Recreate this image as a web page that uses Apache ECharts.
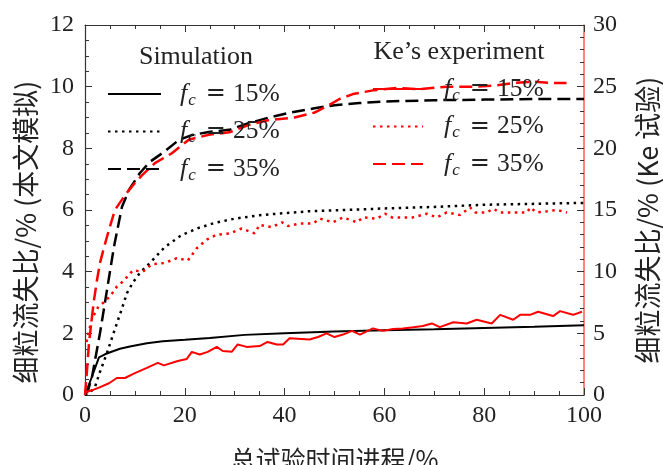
<!DOCTYPE html>
<html>
<head>
<meta charset="utf-8">
<script src="https://cdn.jsdelivr.net/npm/echarts@6/dist/echarts.min.js"></script>
<style>
  html, body { margin: 0; padding: 0; background: #fff; }
  #chart { width: 663px; height: 465px; }
</style>
</head>
<body>
<div id="chart"></div>
<script>
// Simulated fine-particle loss ratio (left axis, %)
const sim15X = [0, 1.4, 2.8, 4, 5.6, 7, 9, 12.4, 15.6, 20, 25, 32, 40, 50, 60, 70, 80, 90, 100];
const sim15Y = [0, 0.6, 1.22, 1.32, 1.42, 1.5, 1.57, 1.68, 1.74, 1.79, 1.85, 1.95, 2.0, 2.06, 2.1, 2.13, 2.17, 2.21, 2.26];

const sim25X = [0, 1, 2, 3, 4.4, 5.4, 6.4, 7.4, 8.4, 9.6, 11, 13.4, 16, 19.4, 22.8, 26, 30, 35, 40, 45, 52, 60, 70, 80, 90, 100];
const sim25Y = [0, 0.08, 0.26, 0.75, 1.36, 1.85, 2.33, 2.8, 3.3, 3.65, 3.96, 4.35, 4.8, 5.19, 5.42, 5.58, 5.72, 5.83, 5.9, 5.96, 6.0, 6.05, 6.1, 6.17, 6.2, 6.23];

const sim35X = [0, 0.6, 1.4, 2.2, 3, 3.7, 4.4, 5.1, 5.8, 6.6, 7.4, 8.8, 11, 13, 15.8, 18.8, 21.4, 24.8, 28.9, 32.9, 36.9, 40.9, 46, 50, 55, 60, 70, 80, 90, 100];
const sim35Y = [0, 0.15, 0.58, 1.3, 2.0, 2.7, 3.4, 4.1, 4.8, 5.45, 6.1, 6.65, 7.2, 7.56, 7.88, 8.27, 8.43, 8.53, 8.6, 8.82, 9.0, 9.15, 9.3, 9.4, 9.47, 9.52, 9.56, 9.58, 9.6, 9.6];

// Ke's measured loss ratio (right axis, %)
const exp15X = [0, 1.5, 2.8, 4.8, 6.4, 8, 10, 12.4, 14.6, 15.8, 18.6, 20.4, 21.4, 23, 24.6, 26.4, 27.6, 29.4, 30.6, 32.4, 35, 36.6, 38.4, 39.7, 41, 45, 46.7, 48.4, 50, 51.7, 53.5, 55.1, 57.7, 59.7, 61.7, 63.7, 65.8, 67.7, 69.5, 71.1, 73.8, 76.5, 78.5, 81.5, 83.2, 85.8, 87.2, 89.2, 90.8, 93.8, 95.2, 97.8, 99.6];
const exp15Y = [0.2, 0.4, 0.6, 0.95, 1.38, 1.38, 1.78, 2.2, 2.6, 2.4, 2.76, 2.92, 3.5, 3.28, 3.5, 3.9, 3.57, 3.5, 4.1, 3.9, 3.97, 4.3, 4.1, 4.1, 4.6, 4.5, 4.7, 5.0, 4.7, 4.9, 5.2, 4.9, 5.4, 5.2, 5.35, 5.4, 5.5, 5.6, 5.8, 5.5, 5.9, 5.8, 6.1, 5.8, 6.5, 6.1, 6.5, 6.5, 6.75, 6.4, 6.8, 6.5, 6.75];

const exp25X = [0.3, 1.4, 2.6, 4, 5.2, 6.4, 7.6, 9.6, 11.6, 13.4, 16, 18.4, 20.6, 22.4, 24.4, 26.4, 29, 31.4, 34, 35, 37.4, 39.5, 40.7, 43.1, 45.7, 47.1, 49.7, 51.7, 54.5, 55.7, 58.5, 60.1, 61.5, 65.7, 68.5, 70.5, 72.5, 75.1, 77.2, 78.2, 80.5, 81.8, 83.2, 85.8, 88.6, 89.2, 90.5, 92.6, 94.6, 96.6];
const exp25Y = [4.3, 6.2, 7.1, 7.6, 8.1, 8.8, 9.2, 10.1, 10.0, 10.6, 10.7, 11.1, 10.9, 11.9, 12.6, 13.0, 13.1, 13.5, 13.1, 13.8, 13.6, 14.0, 13.7, 13.9, 13.9, 14.3, 14.0, 14.4, 14.0, 14.4, 14.3, 14.7, 14.4, 14.4, 14.7, 14.4, 14.8, 14.6, 15.2, 14.8, 14.8, 15.1, 14.8, 14.8, 14.8, 15.2, 14.8, 14.9, 15.0, 14.8];

const exp35X = [0, 0.4, 0.8, 1.3, 1.8, 2.4, 3, 3.9, 4.8, 6, 7, 8.4, 10, 11.4, 14, 17.4, 20.8, 24.8, 28.9, 32.9, 36.9, 42, 46, 48.9, 51, 53.7, 57.7, 62.5, 67, 72.5, 77.7, 82.5, 85.8, 89.8, 93.8, 96.5];
const exp35Y = [0, 2.0, 4.2, 6.0, 7.7, 9.3, 10.7, 12.1, 13.4, 15.0, 15.6, 16.4, 17.2, 17.8, 18.8, 19.6, 20.7, 21.1, 21.3, 21.9, 22.3, 22.5, 22.9, 23.5, 24.0, 24.4, 24.7, 24.9, 24.8, 25.0, 25.0, 25.1, 25.3, 25.4, 25.3, 25.3];

// Axis ranges and tick steps
const xRange = [0, 100], xStep = 20;
const leftRange = [0, 12], leftStep = 2;
const rightRange = [0, 30], rightStep = 5;

const fcLevels = ['15%', '25%', '35%'];

const SERIF = 'Liberation Serif';
const CJK = 'Noto Sans CJK SC';
const INK = '#222';
const SPINE = '#333';

function pairs(xs, ys) { return xs.map((x, i) => [x, ys[i]]); }

function lineSeries(name, xs, ys, yAxisIndex, color, width, type) {
  return {
    name: name,
    type: 'line',
    xAxisIndex: 0,
    yAxisIndex: yAxisIndex,
    data: pairs(xs, ys),
    symbol: 'none',
    showSymbol: false,
    lineStyle: { color: color, width: width, type: type, cap: 'butt' },
    itemStyle: { color: color, opacity: 0 },
    emphasis: { disabled: true },
    animation: false
  };
}

const DOT = [2.5, 4.5];
const DASH = [13, 6];

const simNames = fcLevels.map(p => 'Simulation f_c=' + p);
const expNames = fcLevels.map(p => "Ke's experiment f_c=" + p);

const series = [
  lineSeries(simNames[0], sim15X, sim15Y, 0, '#000', 2, 'solid'),
  lineSeries(simNames[1], sim25X, sim25Y, 0, '#000', 2.5, DOT),
  lineSeries(simNames[2], sim35X, sim35Y, 0, '#000', 2.5, DASH),
  lineSeries(expNames[0], exp15X, exp15Y, 1, '#ff0000', 2, 'solid'),
  lineSeries(expNames[1], exp25X, exp25Y, 1, '#ff0000', 2.5, DOT),
  lineSeries(expNames[2], exp35X, exp35Y, 1, '#ff0000', 2.5, DASH)
];

function fcRich(lead) {
  return {
    f: { fontFamily: SERIF, fontStyle: 'italic', fontSize: 26, color: INK, lineHeight: 30, padding: [0, 1, 0, lead] },
    c: { fontFamily: SERIF, fontStyle: 'italic', fontSize: 17, color: INK, lineHeight: 16, verticalAlign: 'bottom' },
    e: { fontFamily: 'DejaVu Serif', fontSize: 24, color: INK, lineHeight: 30, padding: [0, 7, 0, 10] },
    n: { fontFamily: SERIF, fontSize: 25.5, color: INK, lineHeight: 30 }
  };
}

function fcLegend(names, left, top, itemWidth, lead) {
  return {
    data: names,
    orient: 'vertical',
    left: left,
    top: top,
    padding: 0,
    itemWidth: itemWidth,
    itemHeight: 30,
    itemGap: 9.5,
    selectedMode: false,
    itemStyle: { opacity: 0 },
    formatter: name => '{f|f}{c|c}{e|=}{n|' + name.split('=')[1] + '}',
    textStyle: { rich: fcRich(lead) }
  };
}

function axisCommon() {
  return {
    axisLine: { show: true, onZero: false, lineStyle: { color: SPINE, width: 1.2 } },
    axisTick: { show: true, inside: true, length: 7, lineStyle: { color: SPINE, width: 1 } },
    minorTick: { show: true, length: 4, lineStyle: { color: SPINE, width: 1 } },
    splitLine: { show: false },
    minorSplitLine: { show: false }
  };
}

// Vertical axis titles, read bottom to top
function sideTitle(text, x, y, size) {
  return {
    type: 'text', x: x, y: y, rotation: Math.PI / 2, silent: true,
    style: { text: text, fontFamily: CJK, fontSize: size, fill: INK, align: 'center', verticalAlign: 'middle' }
  };
}

const chart = echarts.init(document.getElementById('chart'), null, { renderer: 'canvas' });

chart.setOption({
  backgroundColor: '#fff',
  animation: false,
  grid: { left: 85, right: 79, top: 25, bottom: 70, containLabel: false, outerBoundsMode: 'none' },
  xAxis: [
    Object.assign(axisCommon(), {
      type: 'value', position: 'bottom',
      min: xRange[0], max: xRange[1], interval: xStep,
      minorTick: { show: true, splitNumber: 4, length: 4, lineStyle: { color: SPINE } },
      axisLabel: { fontFamily: SERIF, fontSize: 24, color: INK, margin: 9 },
      name: '总试验时间进程/%',
      nameLocation: 'middle',
      nameGap: 52,
      nameTextStyle: { fontFamily: CJK, fontSize: 25, color: INK }
    }),
    Object.assign(axisCommon(), {
      type: 'value', position: 'top',
      min: xRange[0], max: xRange[1], interval: xStep,
      minorTick: { show: true, splitNumber: 4, length: 4, lineStyle: { color: SPINE } },
      axisLabel: { show: false }
    })
  ],
  yAxis: [
    Object.assign(axisCommon(), {
      type: 'value', position: 'left',
      min: leftRange[0], max: leftRange[1], interval: leftStep,
      minorTick: { show: true, splitNumber: 4, length: 4, lineStyle: { color: SPINE } },
      axisLabel: { fontFamily: SERIF, fontSize: 24, color: INK, margin: 11 }
    }),
    Object.assign(axisCommon(), {
      type: 'value', position: 'right',
      min: rightRange[0], max: rightRange[1], interval: rightStep,
      axisLine: { show: true, onZero: false, lineStyle: { color: '#ff5a5a', width: 1.5 } },
      minorTick: { show: true, splitNumber: 5, length: 4, lineStyle: { color: SPINE } },
      axisLabel: { fontFamily: SERIF, fontSize: 24, color: INK, margin: 9 }
    })
  ],
  legend: [
    fcLegend(simNames, 107, 81, 53, 14),
    fcLegend(expNames, 372, 76, 50, 16)
  ],
  graphic: [
    { type: 'text', x: 196, y: 57, silent: true,
      style: { text: 'Simulation', fontFamily: SERIF, fontSize: 26, fill: INK, align: 'center', verticalAlign: 'middle' } },
    { type: 'text', x: 459, y: 52, silent: true,
      style: { text: "Ke\u2019s experiment", fontFamily: SERIF, fontSize: 26, fill: INK, align: 'center', verticalAlign: 'middle' } },
    sideTitle('细粒流失比/% (本文模拟)', 26, 232, 27),
    sideTitle('细粒流失比/% (Ke 试验)', 648, 220, 27)
  ],
  series: series
});
</script>
</body>
</html>
